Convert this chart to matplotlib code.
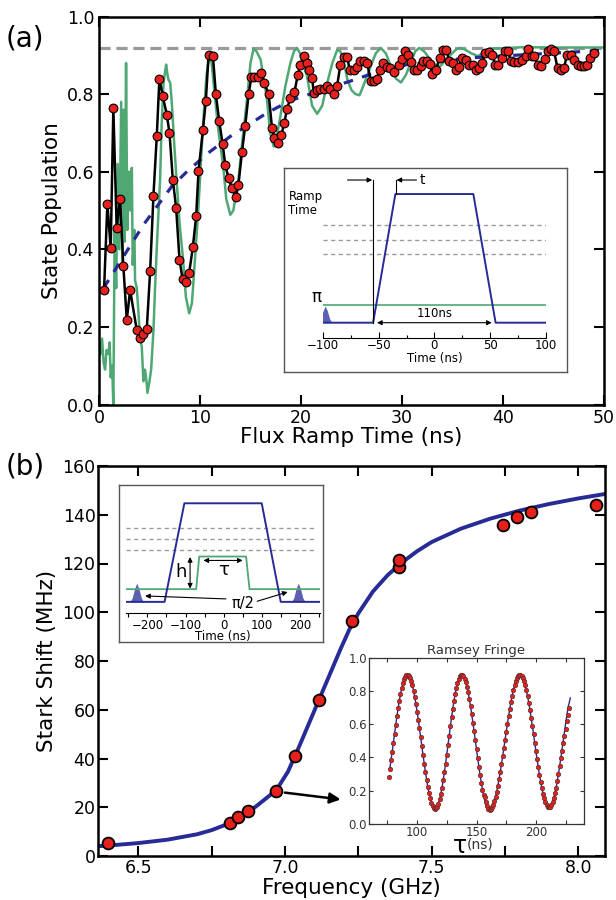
import matplotlib
matplotlib.use('Agg')
import matplotlib.pyplot as plt

W, H = 616, 900


def box(l, t, r, b):
    # pixel box (left, top, right, bottom) -> figure fraction
    return [l / W, 1 - b / H, (r - l) / W, (b - t) / H]


# ---------------- panel (a) data ----------------
ramp_t = [0.5, 0.83, 1.16, 1.42, 1.75, 2.08, 2.41, 2.75, 3.08, 3.74, 4.07, 4.4, 4.73,
          5.06, 5.39, 5.72, 5.98, 6.32, 6.71, 6.98, 7.31, 7.64, 7.97, 8.27, 8.63, 8.93,
          9.29, 9.62, 9.85, 10.29, 10.58, 10.85, 11.28, 11.57, 11.9, 12.24, 12.5, 12.83,
          13.16, 13.55, 13.8, 14.16, 14.48, 14.81, 15.08, 15.38, 15.7, 16.04, 16.37, 16.8,
          17.13, 17.36, 17.72, 18.06, 18.35, 18.62, 18.95, 19.35, 19.67, 19.94, 20.27,
          20.6, 20.77, 21.1, 21.26, 21.6, 21.92, 22.25, 22.59, 22.92, 23.31, 23.58, 23.9,
          24.24, 24.57, 24.83, 25.2, 25.57, 25.85, 26.2, 26.56, 26.9, 27.2, 27.5, 27.8,
          28.14, 28.5, 28.8, 29.2, 29.7, 30.0, 30.3, 30.6, 30.85, 31.2, 31.5, 31.85, 32.1,
          32.45, 32.77, 33.0, 33.35, 33.73, 34.06, 34.4, 34.66, 35.0, 35.3, 35.6, 35.97,
          36.3, 36.6, 37.0, 37.3, 37.6, 37.97, 38.2, 38.6, 38.96, 39.2, 39.5, 39.88, 40.2,
          40.5, 40.77, 41.1, 41.5, 41.93, 42.26, 42.49, 42.83, 43.1, 43.42, 43.75, 44.15,
          44.47, 44.74, 45.05, 45.4, 45.74, 46.05, 46.33, 46.7, 47.06, 47.4, 47.7, 47.98,
          48.3, 48.64, 49.04]
ramp_pop = [0.295, 0.517, 0.403, 0.764, 0.456, 0.530, 0.357, 0.218, 0.295, 0.192, 0.171,
            0.181, 0.195, 0.343, 0.538, 0.691, 0.840, 0.794, 0.747, 0.700, 0.579, 0.506,
            0.373, 0.324, 0.317, 0.340, 0.405, 0.485, 0.601, 0.708, 0.783, 0.902, 0.898,
            0.800, 0.730, 0.672, 0.617, 0.584, 0.558, 0.535, 0.565, 0.652, 0.719, 0.799,
            0.843, 0.843, 0.843, 0.855, 0.829, 0.799, 0.713, 0.687, 0.674, 0.695, 0.726,
            0.762, 0.790, 0.805, 0.848, 0.876, 0.899, 0.880, 0.863, 0.842, 0.803, 0.810,
            0.812, 0.813, 0.820, 0.812, 0.800, 0.822, 0.876, 0.896, 0.896, 0.861, 0.863,
            0.869, 0.885, 0.885, 0.880, 0.833, 0.833, 0.839, 0.863, 0.879, 0.870, 0.867,
            0.856, 0.876, 0.890, 0.912, 0.900, 0.883, 0.863, 0.863, 0.872, 0.885, 0.886,
            0.878, 0.853, 0.862, 0.893, 0.913, 0.914, 0.885, 0.880, 0.863, 0.870, 0.893,
            0.887, 0.876, 0.874, 0.861, 0.868, 0.880, 0.906, 0.909, 0.902, 0.876, 0.874,
            0.893, 0.911, 0.911, 0.885, 0.882, 0.884, 0.889, 0.899, 0.917, 0.898, 0.897,
            0.874, 0.872, 0.891, 0.911, 0.917, 0.911, 0.867, 0.863, 0.867, 0.902, 0.900,
            0.889, 0.876, 0.872, 0.872, 0.876, 0.893, 0.906]

sim_t = [0.0, 0.15, 0.3, 0.45, 0.6, 0.75, 0.92, 1.05, 1.16, 1.3, 1.42, 1.55, 1.7, 1.85,
         2.0, 2.2, 2.3, 2.45, 2.55, 2.68, 2.8, 2.95, 3.1, 3.25, 3.34, 3.5, 3.57, 3.74, 3.9,
         4.07, 4.23, 4.4, 4.56, 4.7, 4.8, 5.0, 5.16, 5.39, 5.55, 5.73, 5.9, 6.05, 6.2,
         6.38, 6.55, 6.65, 6.78, 6.88, 7.05, 7.2, 7.45, 7.7, 8.0, 8.3, 8.6, 8.93, 9.2,
         9.52, 9.85, 10.1, 10.4, 10.65, 10.9, 11.15, 11.45, 11.8, 12.3, 12.6, 13.0, 13.3,
         13.8, 14.2, 14.65, 15.0, 15.3, 15.6, 16.0, 16.3, 16.6, 16.95, 17.3, 17.6, 17.96,
         18.45, 18.95, 19.3, 19.6, 19.9, 20.2, 20.6, 21.1, 21.6, 22.1, 22.6, 23.1, 23.6,
         23.9, 24.25, 24.6, 25.0, 25.4, 25.8, 26.3, 26.9, 27.4, 27.9, 28.4, 28.9, 29.4,
         29.9, 30.4, 30.85, 31.3, 31.7, 32.2, 32.8, 33.3, 33.8, 34.4, 35.0, 35.4, 35.8,
         36.3, 36.8, 37.5, 38.0, 38.5, 39.3, 40.0, 42.0, 45.0, 50.0]
sim_pop = [0.16, 0.13, 0.17, 0.11, 0.09, 0.14, 0.13, 0.16, 0.07, 0.10, 0.0, 0.45, 0.30,
           0.62, 0.40, 0.78, 0.35, 0.76, 0.42, 0.88, 0.45, 0.60, 0.50, 0.61, 0.36, 0.45,
           0.32, 0.30, 0.24, 0.17, 0.15, 0.06, 0.09, 0.06, 0.03, 0.06, 0.09, 0.19, 0.30,
           0.41, 0.50, 0.58, 0.72, 0.825, 0.86, 0.876, 0.85, 0.837, 0.829, 0.78, 0.67,
           0.571, 0.46, 0.381, 0.278, 0.235, 0.261, 0.381, 0.51, 0.63, 0.76, 0.85, 0.895,
           0.88, 0.80, 0.71, 0.614, 0.53, 0.489, 0.50, 0.579, 0.68, 0.786, 0.88, 0.917,
           0.91, 0.889, 0.84, 0.794, 0.70, 0.665, 0.69, 0.743, 0.82, 0.88, 0.91, 0.919,
           0.905, 0.88, 0.846, 0.77, 0.749, 0.77, 0.829, 0.88, 0.915, 0.91, 0.88, 0.837,
           0.81, 0.80, 0.797, 0.83, 0.872, 0.905, 0.919, 0.905, 0.872, 0.84, 0.83, 0.85,
           0.88, 0.91, 0.919, 0.91, 0.889, 0.875, 0.872, 0.89, 0.906, 0.916, 0.919, 0.914,
           0.906, 0.898, 0.905, 0.915, 0.918, 0.918, 0.921, 0.920, 0.920]

trend_t = [0.45, 4.4, 7.2, 8.7, 10.85, 13.0, 16.6, 19.0, 20.9, 25.3, 27.5, 30.5, 36.5,
           42.4, 49.5]
trend_pop = [0.30, 0.463, 0.562, 0.60, 0.649, 0.691, 0.751, 0.784, 0.80, 0.837, 0.857,
             0.876, 0.893, 0.902, 0.912]
steady_pop = 0.92

# ramp inset schematic
flux_t = [-100, -55, -35, 35, 55, 100]
flux_lvl = [0, 0, 1, 1, 0, 0]
qubit_lvl = 0.135
upper_lvls = [0.757, 0.645, 0.536]
pi_t = [-104, -102, -100, -98, -96, -94, -92]
pi_amp = [0, 0.03, 0.09, 0.13, 0.09, 0.03, 0]

# ---------------- panel (b) data ----------------
freq = [6.398, 6.812, 6.841, 6.875, 6.968, 7.034, 7.117, 7.23, 7.39, 7.39, 7.745, 7.79,
        7.84, 8.06]
shift = [5.5, 13.7, 16.2, 18.5, 26.7, 41.2, 64.2, 96.3, 118.5, 121.5, 136.0, 139.0,
         141.0, 144.0]
fit_f = [6.36, 6.4, 6.5, 6.6, 6.7, 6.75, 6.8, 6.85, 6.9, 6.95, 6.98, 7.01, 7.04, 7.07,
         7.1, 7.13, 7.16, 7.19, 7.22, 7.25, 7.3, 7.35, 7.4, 7.45, 7.5, 7.6, 7.7, 7.8, 7.9,
         8.0, 8.09]
fit_shift = [4.0, 4.3, 5.3, 6.7, 8.9, 10.6, 12.9, 16.0, 20.2, 25.0, 28.8, 34.5, 42.5,
             51.0, 59.5, 68.0, 76.5, 85.0, 93.0, 99.5, 108.5, 115.2, 120.5, 125.0, 128.8,
             134.3, 138.4, 141.7, 144.4, 146.7, 148.5]

# Stark pulse schematic
stark_t = [-257, -155, -103, 100, 150, 253]
stark_lvl = [0, 0, 1, 1, 0, 0]
drive_t = [-257, -72, -64, 59, 68, 253]
drive_lvl = [0.129, 0.129, 0.46, 0.46, 0.129, 0.129]
stark_upper = [0.749, 0.635, 0.528]
half_pi_t = [-246, -240, -234, -228, -222, -216, -210]
half_pi_amp = [0, 0.04, 0.13, 0.19, 0.13, 0.04, 0]

# Ramsey fringe
ramsey_t = list(range(76, 229))
ramsey_p = [0.283, 0.331, 0.382, 0.435, 0.490, 0.544, 0.597, 0.649, 0.698, 0.743, 0.783,
            0.819, 0.849, 0.872, 0.888, 0.898, 0.900, 0.895, 0.883, 0.863, 0.837, 0.805,
            0.768, 0.725, 0.678, 0.628, 0.576, 0.522, 0.468, 0.414, 0.362, 0.312, 0.265,
            0.222, 0.185, 0.153, 0.127, 0.107, 0.095, 0.090, 0.093, 0.103, 0.121, 0.147,
            0.179, 0.218, 0.262, 0.311, 0.363, 0.418, 0.475, 0.532, 0.588, 0.643, 0.694,
            0.742, 0.784, 0.821, 0.851, 0.875, 0.891, 0.899, 0.900, 0.892, 0.877, 0.856,
            0.828, 0.794, 0.755, 0.710, 0.662, 0.611, 0.558, 0.503, 0.449, 0.395, 0.343,
            0.294, 0.248, 0.206, 0.170, 0.160, 0.130, 0.105, 0.090, 0.085, 0.089, 0.098,
            0.114, 0.135, 0.162, 0.193, 0.229, 0.269, 0.312, 0.358, 0.406, 0.455, 0.505,
            0.555, 0.603, 0.650, 0.695, 0.736, 0.774, 0.808, 0.837, 0.861, 0.880, 0.892,
            0.899, 0.900, 0.894, 0.881, 0.862, 0.837, 0.807, 0.772, 0.732, 0.688, 0.641,
            0.592, 0.541, 0.490, 0.438, 0.388, 0.340, 0.294, 0.252, 0.214, 0.180, 0.152,
            0.129, 0.113, 0.103, 0.100, 0.103, 0.114, 0.130, 0.154, 0.183, 0.217, 0.256,
            0.300, 0.347, 0.396, 0.440, 0.485, 0.530, 0.575, 0.620, 0.660, 0.700]
fit_t = list(range(77, 231, 2))
fit_p = [0.331, 0.435, 0.544, 0.649, 0.743, 0.819, 0.872, 0.898, 0.895, 0.863, 0.805,
         0.725, 0.628, 0.522, 0.414, 0.312, 0.222, 0.153, 0.107, 0.090, 0.103, 0.147,
         0.218, 0.311, 0.418, 0.532, 0.643, 0.742, 0.821, 0.875, 0.899, 0.892, 0.856,
         0.794, 0.710, 0.611, 0.503, 0.395, 0.294, 0.206, 0.140, 0.098, 0.085, 0.098,
         0.135, 0.193, 0.269, 0.358, 0.455, 0.555, 0.650, 0.736, 0.808, 0.861, 0.892,
         0.900, 0.881, 0.837, 0.772, 0.688, 0.592, 0.490, 0.388, 0.294, 0.214, 0.152,
         0.113, 0.100, 0.114, 0.154, 0.217, 0.300, 0.396, 0.500, 0.604, 0.700, 0.760]

# ---------------- styling ----------------
RED = '#e8201c'
NAVY = '#272b96'
GREEN = '#4fa874'
GREY = '#9a9a9a'

plt.rcParams['font.family'] = 'DejaVu Sans'
plt.rcParams['axes.linewidth'] = 1.8

fig = plt.figure(figsize=(W / 100, H / 100), dpi=100)


def arrow(ax, xy, xytext, style='-|>', lw=1.0, ms=8):
    ax.annotate('', xy=xy, xytext=xytext,
                arrowprops=dict(arrowstyle=style, lw=lw, color='k',
                                mutation_scale=ms, shrinkA=0, shrinkB=0))


# ======== panel (a) ========
ax1 = fig.add_axes(box(99, 16.5, 604, 404.5))
ax1.plot(sim_t, sim_pop, color=GREEN, lw=1.8, zorder=2)
ax1.axhline(steady_pop, color=GREY, lw=2.3, ls=(0, (3.5, 1.8)), zorder=1)
ax1.plot(trend_t, trend_pop, color=NAVY, lw=2.3, ls=(0, (3, 3)), zorder=3)
ax1.plot(ramp_t, ramp_pop, color='k', lw=1.8, zorder=4)
ax1.plot(ramp_t, ramp_pop, 'o', ms=6.3, mfc=RED, mec='k', mew=0.8, zorder=5)
ax1.set_xlim(0, 50)
ax1.set_ylim(0, 1.0)
ax1.set_xticks([0, 10, 20, 30, 40, 50])
ax1.set_yticks([0.0, 0.2, 0.4, 0.6, 0.8, 1.0])
ax1.tick_params(direction='in', length=7, width=1.5, top=True, right=True,
                labelsize=12.5)
ax1.tick_params(axis='y', pad=3.5)
ax1.tick_params(axis='x', pad=3)
ax1.set_xlabel('Flux Ramp Time (ns)', fontsize=15.5, labelpad=0)
ax1.set_ylabel('State Population', fontsize=15.5, labelpad=3)
fig.text(25 / W, 1 - 38 / H, '(a)', fontsize=20, ha='center', va='center')

# ramp schematic inset
frame_a = fig.add_axes(box(284, 168, 567, 372))
frame_a.set_xticks([])
frame_a.set_yticks([])
for s in frame_a.spines.values():
    s.set_linewidth(1.0)
    s.set_color('#555555')

ia = fig.add_axes(box(323, 175, 545.7, 338))
ia.patch.set_alpha(0)
ia.set_xlim(-100, 100)
ia.set_ylim(-0.119, 1.148)
for side in ['top', 'right', 'left']:
    ia.spines[side].set_visible(False)
ia.spines['bottom'].set_linewidth(0.8)
ia.set_yticks([])
ia.set_xticks([-100, -50, 0, 50, 100])
ia.set_xticks([-75, -25, 25, 75], minor=True)
ia.set_xticklabels(['\u2212100', '\u221250', '0', '50', '100'])
ia.tick_params(axis='x', which='major', direction='in', length=4, width=0.8,
               labelsize=8.5, pad=1)
ia.tick_params(axis='x', which='minor', direction='in', length=2, width=0.8)
ia.set_xlabel('Time (ns)', fontsize=8.5, labelpad=0)
for lv in upper_lvls:
    ia.plot([-100, 100], [lv, lv], color=GREY, lw=1.0, ls=(0, (3, 2.5)))
ia.plot([-100, 100], [qubit_lvl, qubit_lvl], color=GREEN, lw=1.2)
ia.plot(flux_t, flux_lvl, color=NAVY, lw=1.4)
ia.fill_between(pi_t, 0, pi_amp, color=NAVY, alpha=0.75, lw=0)
ia.plot([-55.2, -55.2], [0, 1.109], color='k', lw=0.8, clip_on=False)
ia.plot([-34.7, -34.7], [1, 1.109], color='k', lw=0.8, clip_on=False)
arrow(ia, (-55.8, 1.109), (-78, 1.109), ms=7, lw=0.8)
arrow(ia, (-34.0, 1.109), (-16, 1.109), ms=7, lw=0.8)
arrow(ia, (-51.5, 0.0), (51.5, 0.0), style='<|-|>', ms=7, lw=0.8)
ia.text(-131, 1.03, 'Ramp\nTime', fontsize=8.5, ha='left', va='top',
        linespacing=1.1)
ia.text(-13, 1.109, 't', fontsize=10, ha='left', va='center')
ia.text(0, 0.07, '110ns', fontsize=8.5, ha='center', va='center')
ia.text(-106, 0.2, '\u03c0', fontsize=12, ha='center', va='center')

# ======== panel (b) ========
ax2 = fig.add_axes(box(98.3, 466, 605, 856))
ax2.plot(fit_f, fit_shift, color=NAVY, lw=2.8, zorder=2)
ax2.plot(freq, shift, 'o', ms=8.5, mfc=RED, mec='k', mew=1.3, zorder=3)
arrow(ax2, (7.19, 23.2), (7.0, 26.0), lw=1.8, ms=16)
ax2.set_xlim(6.364, 8.091)
ax2.set_ylim(0, 160)
xt = [6.5, 6.75, 7.0, 7.25, 7.5, 7.75, 8.0]
ax2.set_xticks(xt)
ax2.set_xticklabels(['6.5', '', '7.0', '', '7.5', '', '8.0'])
ax2.set_yticks([0, 20, 40, 60, 80, 100, 120, 140, 160])
ax2.tick_params(direction='in', length=7, width=1.5, top=True, right=True,
                labelsize=12.5, pad=2)
ax2.set_xlabel('Frequency (GHz)', fontsize=15.5, labelpad=1)
ax2.set_ylabel('Stark Shift (MHz)', fontsize=15.5, labelpad=4)
fig.text(25 / W, 1 - 466 / H, '(b)', fontsize=20, ha='center', va='center')

# Stark pulse schematic inset
frame_b = fig.add_axes(box(119, 485, 323, 642))
frame_b.set_xticks([])
frame_b.set_yticks([])
for s in frame_b.spines.values():
    s.set_linewidth(1.0)
    s.set_color('#555555')

ib = fig.add_axes(box(125.7, 488, 320, 613.3))
ib.patch.set_alpha(0)
ib.set_xlim(-257, 253)
ib.set_ylim(-0.116, 1.155)
for side in ['top', 'right', 'left']:
    ib.spines[side].set_visible(False)
ib.spines['bottom'].set_linewidth(0.8)
ib.set_yticks([])
ib.set_xticks([-200, -100, 0, 100, 200])
ib.set_xticks([-250, -150, -50, 50, 150, 250], minor=True)
ib.set_xticklabels(['\u2212200', '\u2212100', '0', '100', '200'])
ib.tick_params(axis='x', which='both', direction='out', length=3, width=0.8,
               labelsize=8.5, pad=1)
ib.set_xlabel('Time (ns)', fontsize=8.5, labelpad=-1)
for lv in stark_upper:
    ib.plot([-255, 245], [lv, lv], color=GREY, lw=1.0, ls=(0, (3, 2.5)))
ib.plot(drive_t, drive_lvl, color=GREEN, lw=1.3)
ib.plot(stark_t, stark_lvl, color=NAVY, lw=1.4)
ib.fill_between(half_pi_t, 0, half_pi_amp, color=NAVY, alpha=0.75, lw=0)
ib.fill_between([x + 424 for x in half_pi_t], 0, half_pi_amp, color=NAVY,
                alpha=0.75, lw=0)
arrow(ib, (-88, 0.135), (-88, 0.455), style='<|-|>', ms=7, lw=0.8)
arrow(ib, (-53, 0.42), (50, 0.42), style='<|-|>', ms=7, lw=0.8)
arrow(ib, (-206, 0.06), (6, 0.03), ms=7, lw=0.8)
arrow(ib, (168, 0.1), (88, 0.006), ms=7, lw=0.8)
ib.text(-112, 0.30, 'h', fontsize=13, ha='center', va='center')
ib.text(0, 0.32, '\u03c4', fontsize=13, ha='center', va='center')
ib.text(50, -0.02, '\u03c0/2', fontsize=10.5, ha='center', va='center')

# Ramsey fringe inset
ir = fig.add_axes(box(369, 658.3, 584, 823.6))
ir.plot(fit_t, fit_p, color=NAVY, lw=1.0, zorder=2)
ir.plot(ramsey_t, ramsey_p, 'o', ms=3.2, mfc=RED, mec='#5a3030', mew=0.5, zorder=3)
ir.set_xlim(59.5, 240.5)
ir.set_ylim(0, 1.0)
ir.set_xticks([100, 150, 200])
ir.set_xticks([75, 125, 175, 225], minor=True)
ir.set_yticks([0.0, 0.2, 0.4, 0.6, 0.8, 1.0])
ir.tick_params(which='both', direction='in', length=3, width=0.8, top=True,
               right=True, labelsize=8.5, pad=1.5, colors='#333333')
for s in ir.spines.values():
    s.set_linewidth(0.9)
    s.set_color('#333333')
ir.set_title('Ramsey Fringe', fontsize=9.5, pad=3, color='#333333')
fig.text(460 / W, 1 - 846 / H, '\u03c4', fontsize=17, ha='center', va='center')
fig.text(467 / W, 1 - 845 / H, '(ns)', fontsize=10, ha='left', va='center',
         color='#333333')

fig.savefig('out.png', dpi=100)
